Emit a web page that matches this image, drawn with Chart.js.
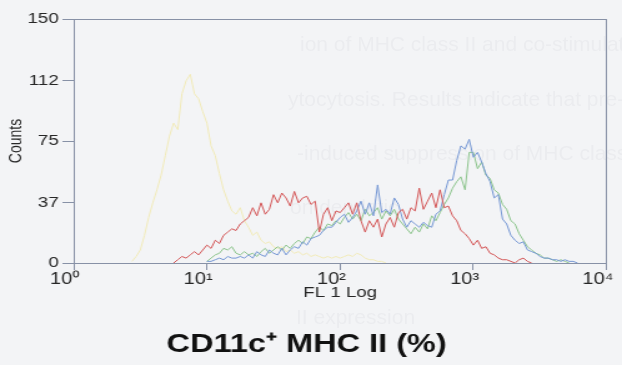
<!DOCTYPE html>
<html>
<head>
<meta charset="utf-8">
<script src="https://cdn.jsdelivr.net/npm/chart.js@4/dist/chart.umd.min.js"></script>
<style>
  html, body { margin: 0; padding: 0; width: 622px; height: 365px; overflow: hidden; background: #f3f4f6; }
  .under { position: absolute; white-space: nowrap; font-family: 'Liberation Sans', Arial, sans-serif;
           font-size: 21px; color: rgba(70, 80, 100, 0.045); filter: blur(0.7px); }
  #wrap { position: absolute; left: 0; top: 0; width: 498px; height: 365px;
          transform: scaleX(1.249); transform-origin: 0 0; }
</style>
</head>
<body>
<div class="under" style="left:300px; top:32px;">ion of MHC class II and co-stimulatory</div>
<div class="under" style="left:288px; top:87px;">ytocytosis. Results indicate that pre-treatm</div>
<div class="under" style="left:297px; top:141px;">-induced suppression of MHC class II</div>
<div class="under" style="left:290px; top:195px;">on dendritic</div>
<div class="under" style="left:296px; top:305px;">II expression</div>
<div id="wrap"><canvas id="c"></canvas></div>
<script>
// FL1 histogram: counts per channel, 32 channels per decade, log axis 10^0..10^4
const channelsPerDecade = 32;

const xTickValues = [1, 10, 100, 1000, 10000];
const xTickLabels = ['10⁰', '10¹', '10²', '10³', '10⁴'];
const yTickValues = [0, 37, 75, 112, 150];

// isotype control
const yellowStart = 14;
const yellowCounts = [1, 4, 8, 17, 28, 37, 45, 54, 66, 78, 86, 82, 104, 112, 116, 104, 101, 93, 86, 72,
  66, 55, 45, 38, 32, 30, 34, 26, 22, 17, 19, 14, 12, 13, 10, 9, 10, 7, 8, 6,
  7, 5, 6, 4, 5, 4, 3, 4, 3, 4, 3, 4, 5, 4, 6, 5, 3, 2, 2, 1, 1, 0];

const redStart = 24;
const redCounts = [0, 2, 4, 3, 5, 7, 5, 8, 11, 9, 14, 12, 17, 19, 21, 20, 24, 26, 28, 34,
  29, 37, 30, 33, 42, 37, 43, 40, 35, 44, 37, 40, 41, 36, 38, 19, 30, 34, 26, 32,
  31, 34, 37, 30, 37, 26, 19, 26, 22, 27, 16, 24, 28, 22, 31, 33, 27, 34, 32, 46,
  33, 38, 43, 34, 45, 34, 35, 29, 26, 20, 18, 15, 11, 14, 9, 10, 6, 5, 3, 2,
  2, 1, 0, 2, 3, 1, 0];

const blueStart = 32;
const blueCounts = [1, 1, 2, 3, 2, 4, 3, 3, 4, 3, 5, 3, 7, 5, 4, 8, 6, 5, 9, 5,
  8, 10, 9, 13, 11, 15, 16, 17, 20, 22, 22, 25, 28, 30, 25, 28, 32, 38, 30, 37,
  29, 48, 31, 33, 30, 40, 36, 27, 22, 26, 24, 22, 25, 23, 22, 30, 32, 42, 51, 51,
  63, 72, 70, 76, 65, 68, 62, 55, 50, 40, 42, 27, 24, 17, 14, 12, 13, 8, 7, 6,
  4, 3, 3, 2, 2, 1, 2, 1, 1, 0];

const greenStart = 32;
const greenCounts = [1, 3, 5, 6, 9, 8, 10, 6, 5, 7, 5, 6, 4, 7, 9, 6, 8, 10, 8, 11,
  9, 12, 14, 12, 16, 15, 19, 22, 20, 24, 23, 26, 24, 28, 31, 27, 30, 26, 33, 29,
  31, 34, 27, 32, 29, 33, 27, 24, 21, 18, 22, 19, 24, 21, 29, 26, 31, 36, 40, 46,
  50, 53, 45, 68, 68, 58, 62, 54, 52, 45, 43, 36, 33, 26, 24, 18, 14, 10, 8, 6,
  5, 3, 3, 2, 1, 2, 1, 0];

function toPoints(start, counts) {
  return counts.map((c, i) => ({ x: Math.pow(10, (start + i) / channelsPerDecade), y: c }));
}

const fontFamily = "'Liberation Sans', Arial, Helvetica, sans-serif";
const axisColor = '#8791a6';
const textColor = '#262626';

function histogram(points, color) {
  return { data: points, borderColor: color, borderWidth: 1, pointRadius: 0, tension: 0, fill: false };
}

new Chart(document.getElementById('c'), {
  type: 'line',
  data: {
    datasets: [
      histogram(toPoints(redStart, redCounts), '#d35556'),
      histogram(toPoints(blueStart, blueCounts), '#7597d4'),
      histogram(toPoints(greenStart, greenCounts), '#8cc48c'),
      histogram(toPoints(yellowStart, yellowCounts), '#f1eab8')
    ]
  },
  options: {
    responsive: true,
    maintainAspectRatio: false,
    animation: false,
    events: [],
    layout: { padding: { top: 19, right: 7, bottom: 7, left: 0 } },
    plugins: {
      legend: { display: false },
      tooltip: { enabled: false },
      title: {
        display: true,
        position: 'bottom',
        text: 'CD11c⁺ MHC II (%)',
        color: '#111',
        font: { family: fontFamily, size: 26, weight: 'bold', lineHeight: 1 },
        padding: 0
      }
    },
    scales: {
      x: {
        type: 'logarithmic',
        position: 'bottom',
        min: 1,
        max: 10000,
        afterBuildTicks: s => { s.ticks = xTickValues.map(v => ({ value: v })); },
        afterFit: s => { s.height = 69; },
        ticks: {
          autoSkip: false,
          maxRotation: 0,
          color: textColor,
          font: { family: fontFamily, size: 16 },
          padding: 0,
          labelOffset: -7,
          callback: v => xTickLabels[xTickValues.indexOf(v)]
        },
        grid: { display: true, drawOnChartArea: false, drawTicks: true, tickLength: 7, color: axisColor, lineWidth: 1 },
        border: { display: true, color: axisColor, width: 1 },
        title: {
          display: true,
          text: 'FL 1 Log',
          color: textColor,
          font: { family: fontFamily, size: 15 },
          padding: { top: 0, bottom: 30 }
        }
      },
      y: {
        type: 'linear',
        position: 'left',
        min: 0,
        max: 150,
        afterBuildTicks: s => { s.ticks = yTickValues.map(v => ({ value: v })); },
        afterFit: s => { s.width = 59; },
        ticks: {
          color: textColor,
          font: { family: fontFamily, size: 15 },
          padding: 3
        },
        grid: { display: true, drawOnChartArea: false, drawTicks: true, tickLength: 9, color: axisColor, lineWidth: 1 },
        border: { display: true, color: axisColor, width: 1 },
        title: {
          display: true,
          text: 'Counts',
          color: textColor,
          font: { family: fontFamily, size: 14 },
          padding: { top: 5, bottom: 0 }
        }
      },
      xTop: {
        type: 'linear',
        position: 'top',
        ticks: { display: false },
        grid: { display: false },
        border: { display: true, color: axisColor, width: 1 },
        afterFit: s => { s.height = 0; }
      },
      yRight: {
        type: 'linear',
        position: 'right',
        ticks: { display: false },
        grid: { display: false },
        border: { display: true, color: axisColor, width: 1 },
        afterFit: s => { s.width = 0; }
      }
    }
  }
});
</script>
</body>
</html>
